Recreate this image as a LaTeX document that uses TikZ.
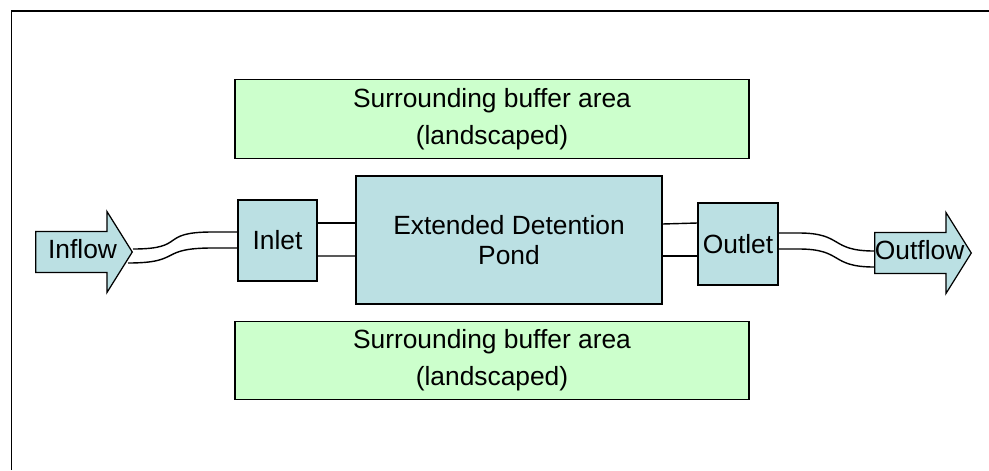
\documentclass[tikz,border=0pt]{standalone}
\usepackage{fontspec}
\setmainfont{Liberation Sans}
\usepackage{tikz}
\usetikzlibrary{shapes.arrows,calc}
\definecolor{pondblue}{RGB}{187,224,227}
\definecolor{buffergreen}{RGB}{204,255,204}

\begin{document}
\begin{tikzpicture}[
  x=0.02cm, y=-0.02cm,
  unit/.style={draw, line width=0.7pt, fill=pondblue, align=center, inner sep=0pt, font=\fontsize{15}{17.5}\selectfont},
  buffer/.style={draw, line width=0.7pt, fill=buffergreen, minimum width=10.28cm, minimum height=1.57cm, align=center, font=\fontsize{15}{21}\selectfont},
  flow/.style={single arrow, draw, line width=0.7pt, fill=pondblue, inner xsep=-10pt, inner ysep=4.34pt, text height=10.8pt, text depth=3.2pt, single arrow head extend=0.4cm, single arrow tip angle=116, minimum height=1.93cm, font=\fontsize{15}{17.5}\selectfont},
  pipe/.style={line width=0.8pt}
]
  \useasboundingbox (0,0) rectangle (989,470);
  % outer frame
  \draw[line width=0.9pt] (11.5,470) -- (11.5,11) -- (989,11);

  \node[buffer] (top) at (492,119) {Surrounding buffer area\\(landscaped)};
  \node[buffer] (bottom) at (492,360.5) {Surrounding buffer area\\(landscaped)};
  \node[unit, minimum width=6.12cm, minimum height=2.56cm] (pond) at (509,240) {Extended Detention\\Pond};
  \node[unit, minimum width=1.58cm, minimum height=1.62cm] (inlet) at (277.5,240.5) {Inlet};
  \node[unit, minimum width=1.6cm, minimum height=1.64cm] (outlet) at (738,244) {Outlet};
  \node[flow, anchor=tip] (inflow) at (133,252) {\hspace*{5.6pt}Inflow};
  \node[flow, anchor=tip] (outflow) at (972,253) {\hspace*{3.4pt}Outflow};

  % pipes
  \draw[pipe] ($(inlet.east)+(0,-17.5)$) -- ($(pond.west)+(0,-17)$);
  \draw[pipe] ($(inlet.east)+(0,15.5)$) -- ($(pond.west)+(0,16)$);
  \draw[pipe] ($(pond.east)+(0,-16)$) -- ($(outlet.west)+(0,-21)$);
  \draw[pipe] ($(pond.east)+(0,16)$) -- ($(outlet.west)+(0,12)$);
  \draw[pipe] ($(inflow.tip)+(0,-3)$) .. controls +(55,0) and +(-55,0) .. ($(inlet.west)+(-25,-8.5)$) -- ($(inlet.west)+(0,-8.5)$);
  \draw[pipe] ($(inflow.tip)+(-5,11)$) .. controls +(55,0) and +(-55,0) .. ($(inlet.west)+(-25,7.5)$) -- ($(inlet.west)+(0,7.5)$);
  \draw[pipe] ($(outlet.east)+(0,-11)$) -- ($(outlet.east)+(20,-11)$) .. controls +(45,0) and +(-45,0) .. ($(outflow.tail)+(0,-2)$);
  \draw[pipe] ($(outlet.east)+(0,5)$) -- ($(outlet.east)+(20,5)$) .. controls +(45,0) and +(-45,0) .. ($(outflow.tail)+(0,14)$);
\end{tikzpicture}
\end{document}
